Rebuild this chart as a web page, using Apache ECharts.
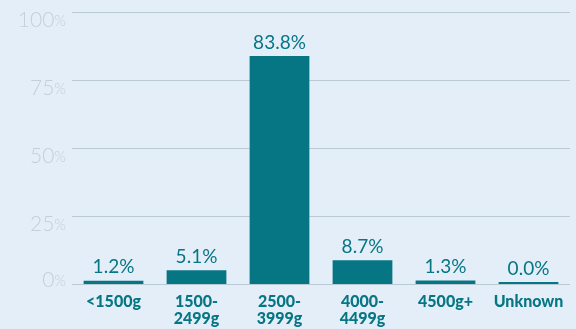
<!DOCTYPE html>
<html>
<head>
<meta charset="utf-8">
<script src="https://cdn.jsdelivr.net/npm/echarts@6/dist/echarts.min.js"></script>
<style>
  html, body { margin: 0; padding: 0; background: #e4eef8; }
  #chart { width: 576px; height: 329px; }
</style>
</head>
<body>
<div id="chart"></div>
<script>
// Birth weight distribution
const categories = ['<1500g', '1500-\n2499g', '2500-\n3999g', '4000-\n4499g', '4500g+', 'Unknown'];
const shares = [1.2, 5.1, 83.8, 8.7, 1.3, 0.0];
const yTicks = [0, 25, 50, 75, 100];

const teal = '#067684';
const grey = '#c3d0d6';
const chart = echarts.init(document.getElementById('chart'));
chart.setOption({
  backgroundColor: '#e4eef8',
  animation: false,
  grid: { left: 72, right: 6, top: 12, bottom: 45 },
  xAxis: {
    type: 'category',
    data: categories,
    axisLine: { show: false },
    axisTick: { show: false },
    axisLabel: {
      color: teal,
      fontFamily: 'Lato',
      fontWeight: 900,
      fontSize: 16,
      lineHeight: 17,
      margin: 9,
      interval: 0
    }
  },
  yAxis: {
    type: 'value',
    min: yTicks[0],
    max: yTicks[yTicks.length - 1],
    interval: 25,
    axisLine: { show: false },
    axisTick: { show: false },
    splitLine: { lineStyle: { color: '#b9cad2', width: 1.2 } },
    axisLabel: {
      margin: 6,
      formatter: function (v) {
        const key = v === 0 ? 'z' : 'n';
        return '{' + key + '|' + v + '}{' + key + 'p|%}';
      },
      rich: {
        n: { color: grey, fontFamily: 'Lato', fontWeight: 300, fontSize: 21, padding: [16, 0, 0, 0] },
        np: { color: grey, fontFamily: 'Lato', fontWeight: 300, fontSize: 15, padding: [19, 0, 0, 0] },
        z: { color: grey, fontFamily: 'Lato', fontWeight: 300, fontSize: 21, padding: [0, 0, 8, 0] },
        zp: { color: grey, fontFamily: 'Lato', fontWeight: 300, fontSize: 15, padding: [3, 0, 8, 0] }
      }
    }
  },
  series: [{
    type: 'bar',
    data: shares,
    barWidth: '72%',
    barMinHeight: 2,
    itemStyle: { color: teal },
    label: {
      show: true,
      position: 'top',
      distance: 4,
      color: teal,
      fontFamily: 'Lato',
      fontSize: 19,
      formatter: function (p) { return p.value.toFixed(1) + '%'; }
    }
  }]
});
</script>
</body>
</html>
